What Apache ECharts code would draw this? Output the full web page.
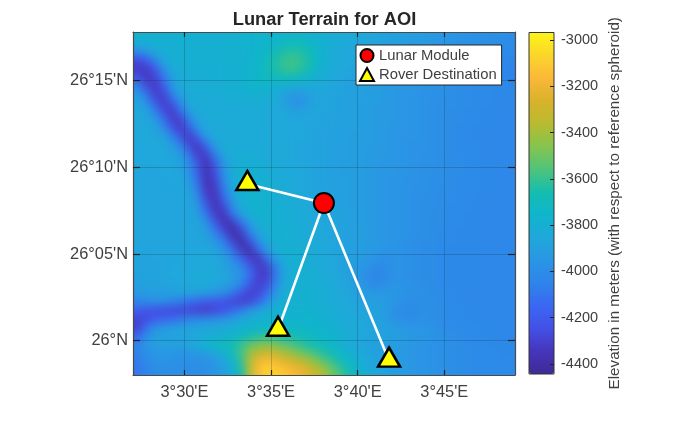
<!DOCTYPE html>
<html>
<head>
<meta charset="utf-8">
<script src="https://cdn.jsdelivr.net/npm/echarts@6/dist/echarts.min.js"></script>
<style>html,body{margin:0;padding:0;background:#fff}#chart{width:700px;height:421px}</style>
</head>
<body>
<div id="chart"></div>
<script>
// axes are in arc minutes
var xTicks = [210, 215, 220, 225];
var xTickLabels = ["3°30'E", "3°35'E", "3°40'E", "3°45'E"];
var yTicks = [1560, 1565, 1570, 1575];
var yTickLabels = ["26°N", "26°05'N", "26°10'N", "26°15'N"];
var elevationTicks = [-4400, -4200, -4000, -3800, -3600, -3400, -3200, -3000];

var moduleLon = [218.05];
var moduleLat = [1567.94];
var destLon = [213.63, 215.4, 221.81];
var destLat = [1569.04, 1560.63, 1558.85];

// elevation, half minute cells, north to south
var terrain = [
[-3790,-3790,-3790,-3790,-3790,-3790,-3790,-3790,-3790,-3790, -3790,-3790,-3780,-3780,-3770,-3770,-3770,-3770,-3770,-3770, -3790,-3800,-3810,-3820,-3830,-3840,-3850,-3860,-3870,-3880, -3890,-3900,-3910,-3920,-3930,-3940,-3950,-3960,-3970,-3980, -3980,-3990,-3990,-4000,-4000],
[-3800,-3800,-3800,-3800,-3800,-3800,-3800,-3800,-3800,-3800, -3790,-3790,-3780,-3780,-3770,-3760,-3750,-3730,-3710,-3710, -3740,-3780,-3810,-3830,-3840,-3850,-3860,-3870,-3880,-3890, -3900,-3910,-3920,-3930,-3940,-3950,-3960,-3970,-3980,-3980, -3990,-3990,-4000,-4000,-4010],
[-3960,-3900,-3830,-3810,-3800,-3800,-3800,-3800,-3800,-3800, -3790,-3790,-3790,-3780,-3770,-3740,-3700,-3650,-3630,-3650, -3700,-3770,-3810,-3840,-3850,-3860,-3870,-3880,-3890,-3900, -3910,-3920,-3930,-3940,-3950,-3960,-3970,-3980,-3990,-3990, -4000,-4000,-4010,-4010,-4020],
[-4240,-4180,-4020,-3860,-3810,-3800,-3800,-3800,-3800,-3800, -3800,-3790,-3790,-3780,-3750,-3710,-3650,-3600,-3590,-3610, -3670,-3750,-3810,-3840,-3850,-3860,-3880,-3890,-3900,-3910, -3920,-3930,-3940,-3950,-3960,-3970,-3980,-3990,-3990,-4000, -4000,-4010,-4020,-4030,-4040],
[-4330,-4320,-4210,-3980,-3840,-3810,-3810,-3810,-3810,-3810, -3800,-3800,-3790,-3770,-3740,-3700,-3650,-3600,-3590,-3620, -3680,-3760,-3820,-3840,-3860,-3870,-3880,-3890,-3900,-3910, -3920,-3930,-3940,-3950,-3960,-3970,-3980,-3990,-4000,-4000, -4010,-4020,-4030,-4040,-4060],
[-4240,-4330,-4300,-4110,-3890,-3820,-3820,-3820,-3810,-3810, -3800,-3800,-3790,-3770,-3740,-3710,-3690,-3670,-3680,-3720, -3770,-3810,-3840,-3860,-3870,-3880,-3890,-3900,-3910,-3920, -3930,-3940,-3950,-3960,-3970,-3980,-3990,-3990,-4000,-4010, -4010,-4020,-4030,-4050,-4060],
[-4050,-4260,-4330,-4200,-3960,-3840,-3820,-3820,-3820,-3810, -3810,-3800,-3790,-3760,-3750,-3760,-3780,-3800,-3810,-3830, -3840,-3850,-3860,-3870,-3880,-3890,-3900,-3910,-3920,-3920, -3930,-3940,-3950,-3960,-3970,-3980,-3990,-4000,-4000,-4010, -4010,-4020,-4020,-4030,-4040],
[-3930,-4090,-4300,-4300,-4060,-3880,-3830,-3830,-3820,-3820, -3820,-3810,-3800,-3790,-3790,-3810,-3830,-3880,-3930,-3930, -3880,-3860,-3870,-3880,-3890,-3890,-3900,-3910,-3920,-3930, -3940,-3950,-3960,-3970,-3980,-3980,-3990,-4000,-4000,-4010, -4010,-4020,-4020,-4020,-4030],
[-3870,-3960,-4180,-4320,-4230,-3990,-3850,-3830,-3830,-3830, -3820,-3820,-3820,-3820,-3820,-3830,-3840,-3900,-3970,-3980, -3900,-3870,-3870,-3880,-3890,-3900,-3910,-3910,-3920,-3930, -3940,-3950,-3960,-3970,-3980,-3990,-3990,-4000,-4000,-4010, -4010,-4020,-4020,-4030,-4030],
[-3850,-3880,-4020,-4250,-4330,-4140,-3920,-3840,-3840,-3830, -3830,-3830,-3830,-3830,-3830,-3840,-3850,-3860,-3890,-3890, -3870,-3870,-3880,-3880,-3890,-3900,-3910,-3920,-3930,-3930, -3940,-3950,-3960,-3970,-3980,-3990,-4000,-4000,-4010,-4010, -4020,-4020,-4020,-4030,-4030],
[-3850,-3860,-3920,-4090,-4300,-4300,-4060,-3880,-3840,-3840, -3840,-3830,-3830,-3830,-3830,-3840,-3850,-3850,-3860,-3860, -3870,-3870,-3880,-3890,-3890,-3900,-3910,-3920,-3930,-3930, -3940,-3950,-3960,-3970,-3980,-3990,-4000,-4000,-4010,-4010, -4020,-4020,-4030,-4030,-4030],
[-3850,-3850,-3870,-3970,-4180,-4330,-4210,-3960,-3850,-3840, -3840,-3840,-3830,-3830,-3840,-3840,-3850,-3850,-3860,-3860, -3870,-3880,-3880,-3890,-3900,-3900,-3910,-3920,-3930,-3940, -3950,-3950,-3960,-3970,-3980,-3990,-4000,-4010,-4010,-4020, -4020,-4020,-4030,-4030,-4030],
[-3850,-3850,-3860,-3870,-4010,-4200,-4340,-4160,-3930,-3840, -3840,-3840,-3830,-3830,-3840,-3840,-3850,-3850,-3860,-3860, -3870,-3880,-3890,-3890,-3900,-3910,-3910,-3920,-3930,-3940, -3950,-3960,-3960,-3970,-3980,-3990,-4000,-4010,-4010,-4020, -4020,-4030,-4030,-4030,-4030],
[-3860,-3860,-3860,-3860,-3900,-4030,-4260,-4340,-4140,-3910, -3840,-3830,-3830,-3830,-3830,-3840,-3850,-3850,-3860,-3870, -3870,-3880,-3890,-3900,-3900,-3910,-3920,-3920,-3930,-3940, -3950,-3960,-3970,-3970,-3980,-3990,-4000,-4010,-4010,-4010, -4020,-4030,-4030,-4030,-4030],
[-3860,-3860,-3860,-3860,-3870,-3930,-4090,-4310,-4310,-4060, -3860,-3830,-3820,-3820,-3830,-3840,-3840,-3850,-3860,-3870, -3870,-3880,-3890,-3900,-3900,-3910,-3920,-3930,-3930,-3940, -3950,-3960,-3970,-3980,-3980,-3990,-4000,-4000,-4010,-4010, -4020,-4020,-4030,-4030,-4030],
[-3860,-3860,-3860,-3860,-3860,-3890,-3990,-4220,-4370,-4200, -3950,-3830,-3810,-3810,-3820,-3830,-3840,-3850,-3860,-3860, -3870,-3880,-3890,-3900,-3910,-3910,-3920,-3930,-3940,-3940, -3950,-3960,-3970,-3980,-3980,-3990,-4000,-4000,-4010,-4010, -4020,-4020,-4030,-4030,-4030],
[-3870,-3870,-3870,-3860,-3860,-3870,-3970,-4190,-4380,-4250, -3970,-3820,-3790,-3780,-3800,-3820,-3830,-3840,-3850,-3860, -3870,-3880,-3890,-3900,-3910,-3910,-3920,-3930,-3940,-3950, -3950,-3960,-3970,-3980,-3990,-3990,-4000,-4000,-4010,-4010, -4020,-4020,-4030,-4030,-4030],
[-3870,-3870,-3870,-3870,-3860,-3860,-3910,-4130,-4370,-4300, -4020,-3840,-3780,-3770,-3780,-3810,-3830,-3840,-3850,-3860, -3870,-3880,-3890,-3900,-3900,-3910,-3920,-3930,-3940,-3950, -3960,-3970,-3970,-3980,-3990,-3990,-4000,-4010,-4010,-4010, -4020,-4020,-4030,-4030,-4030],
[-3870,-3870,-3870,-3870,-3870,-3860,-3890,-4070,-4340,-4330, -4090,-3860,-3780,-3770,-3780,-3800,-3820,-3830,-3840,-3860, -3870,-3880,-3880,-3890,-3900,-3910,-3920,-3930,-3940,-3950, -3960,-3970,-3980,-3980,-3990,-4000,-4000,-4010,-4010,-4010, -4020,-4020,-4030,-4030,-4030],
[-3870,-3870,-3870,-3870,-3870,-3870,-3870,-4000,-4280,-4370, -4160,-3920,-3800,-3780,-3780,-3790,-3810,-3820,-3830,-3850, -3860,-3870,-3880,-3890,-3900,-3910,-3920,-3930,-3940,-3950, -3960,-3970,-3980,-3990,-3990,-4000,-4000,-4010,-4010,-4020, -4020,-4020,-4030,-4030,-4030],
[-3870,-3870,-3870,-3870,-3870,-3870,-3870,-3940,-4180,-4370, -4280,-4000,-3840,-3790,-3780,-3790,-3800,-3810,-3830,-3840, -3850,-3860,-3880,-3890,-3900,-3910,-3920,-3930,-3940,-3950, -3960,-3970,-3980,-3990,-3990,-4000,-4010,-4010,-4010,-4020, -4020,-4030,-4030,-4030,-4030],
[-3870,-3870,-3870,-3870,-3870,-3870,-3870,-3900,-4090,-4300, -4370,-4130,-3900,-3810,-3790,-3790,-3800,-3810,-3820,-3830, -3850,-3860,-3870,-3880,-3890,-3900,-3920,-3930,-3940,-3950, -3960,-3970,-3980,-3990,-4000,-4000,-4010,-4010,-4020,-4020, -4020,-4030,-4030,-4030,-4030],
[-3870,-3870,-3870,-3870,-3870,-3870,-3870,-3870,-3970,-4180, -4350,-4370,-4150,-3930,-3820,-3790,-3800,-3810,-3820,-3830, -3840,-3850,-3870,-3880,-3890,-3900,-3910,-3930,-3940,-3950, -3960,-3970,-3980,-3990,-4000,-4000,-4010,-4010,-4020,-4020, -4030,-4030,-4030,-4030,-4030],
[-3870,-3870,-3870,-3870,-3870,-3870,-3870,-3870,-3900,-4040, -4240,-4400,-4320,-4060,-3870,-3810,-3800,-3800,-3810,-3820, -3840,-3850,-3860,-3880,-3890,-3900,-3910,-3930,-3940,-3950, -3960,-3970,-3980,-3990,-4000,-4010,-4010,-4020,-4020,-4020, -4030,-4030,-4030,-4030,-4030],
[-3870,-3870,-3870,-3870,-3870,-3870,-3870,-3870,-3880,-3950, -4060,-4280,-4420,-4240,-3990,-3840,-3800,-3800,-3810,-3820, -3830,-3850,-3860,-3870,-3890,-3900,-3910,-3930,-3940,-3950, -3960,-3980,-3990,-4000,-4000,-4010,-4010,-4020,-4020,-4020, -4030,-4030,-4030,-4030,-4030],
[-3870,-3870,-3870,-3870,-3870,-3870,-3860,-3860,-3860,-3880, -3960,-4110,-4320,-4390,-4160,-3930,-3820,-3800,-3800,-3810, -3830,-3840,-3860,-3870,-3890,-3900,-3920,-3930,-3940,-3960, -3970,-3980,-3990,-4000,-4000,-4010,-4020,-4020,-4020,-4020, -4030,-4030,-4030,-4030,-4030],
[-3880,-3880,-3870,-3870,-3870,-3860,-3860,-3850,-3850,-3860, -3880,-4000,-4140,-4310,-4350,-4110,-3900,-3810,-3800,-3810, -3820,-3840,-3850,-3870,-3890,-3900,-3920,-3950,-3980,-3990, -3970,-3980,-3990,-4000,-4000,-4010,-4020,-4020,-4020,-4020, -4030,-4030,-4030,-4030,-4030],
[-3880,-3880,-3880,-3870,-3860,-3860,-3850,-3850,-3850,-3850, -3870,-3940,-4020,-4170,-4310,-4310,-4060,-3860,-3800,-3800, -3810,-3830,-3850,-3870,-3890,-3920,-3950,-3990,-4020,-3990, -3970,-3980,-3990,-4000,-4000,-4010,-4020,-4020,-4020,-4020, -4030,-4030,-4030,-4030,-4030],
[-3890,-3880,-3880,-3870,-3860,-3860,-3850,-3840,-3840,-3850, -3860,-3910,-3970,-4120,-4300,-4310,-4080,-3870,-3800,-3800, -3810,-3820,-3840,-3860,-3880,-3920,-3970,-4020,-4040,-4000, -3970,-3980,-3990,-4000,-4000,-4010,-4020,-4020,-4020,-4020, -4030,-4030,-4030,-4030,-4030],
[-3900,-3890,-3880,-3880,-3870,-3860,-3850,-3840,-3840,-3860, -3880,-3930,-4020,-4210,-4310,-4260,-4040,-3850,-3790,-3790, -3800,-3820,-3830,-3850,-3870,-3900,-3950,-4000,-4010,-3970, -3960,-3970,-3980,-3990,-4000,-4010,-4020,-4020,-4020,-4020, -4030,-4030,-4030,-4030,-4030],
[-3940,-3920,-3910,-3900,-3890,-3880,-3880,-3890,-3920,-3950, -4000,-4090,-4220,-4300,-4280,-4130,-3940,-3820,-3790,-3790, -3790,-3810,-3830,-3840,-3860,-3880,-3910,-3930,-3940,-3940, -3950,-3960,-3970,-3990,-4000,-4000,-4010,-4020,-4020,-4020, -4030,-4030,-4030,-4030,-4030],
[-4040,-4010,-3990,-4000,-4040,-4080,-4120,-4170,-4210,-4220, -4240,-4280,-4300,-4280,-4170,-4000,-3850,-3800,-3790,-3790, -3790,-3800,-3820,-3840,-3850,-3870,-3890,-3900,-3910,-3930, -3960,-3990,-4000,-3990,-3990,-4000,-4010,-4020,-4020,-4030, -4030,-4030,-4030,-4030,-4030],
[-4180,-4230,-4250,-4260,-4270,-4280,-4280,-4300,-4310,-4280, -4240,-4160,-4070,-3950,-3870,-3820,-3790,-3780,-3780,-3780, -3780,-3790,-3810,-3830,-3840,-3860,-3870,-3880,-3900,-3940, -3990,-4010,-4010,-3990,-3990,-4000,-4010,-4010,-4020,-4020, -4030,-4030,-4030,-4030,-4030],
[-4290,-4260,-4200,-4170,-4140,-4100,-4050,-4030,-4010,-3980, -3950,-3900,-3860,-3820,-3790,-3780,-3770,-3770,-3770,-3770, -3770,-3780,-3800,-3820,-3840,-3850,-3860,-3880,-3890,-3930, -3980,-4000,-4000,-3980,-3990,-4000,-4010,-4010,-4020,-4020, -4020,-4020,-4030,-4030,-4030],
[-4300,-4130,-3990,-3930,-3900,-3890,-3880,-3870,-3860,-3850, -3840,-3820,-3790,-3770,-3760,-3740,-3740,-3740,-3740,-3740, -3750,-3770,-3780,-3800,-3820,-3840,-3860,-3870,-3890,-3900, -3920,-3940,-3950,-3960,-3970,-3990,-4000,-4000,-4010,-4010, -4020,-4020,-4020,-4030,-4030],
[-4160,-4000,-3900,-3890,-3880,-3880,-3870,-3850,-3830,-3810, -3790,-3760,-3720,-3670,-3630,-3610,-3620,-3650,-3670,-3690, -3710,-3740,-3760,-3790,-3810,-3830,-3850,-3870,-3880,-3900, -3910,-3930,-3940,-3950,-3960,-3980,-3990,-4000,-4010,-4010, -4020,-4020,-4020,-4030,-4020],
[-4040,-3960,-3900,-3900,-3900,-3900,-3870,-3830,-3770,-3730, -3700,-3660,-3600,-3530,-3470,-3450,-3480,-3520,-3570,-3610, -3650,-3680,-3720,-3770,-3810,-3850,-3880,-3890,-3900,-3910, -3920,-3930,-3950,-3960,-3970,-3980,-3990,-4000,-4000,-4010, -4010,-4020,-4020,-4020,-4020],
[-4060,-3990,-3950,-3940,-3950,-3960,-3960,-3940,-3920,-3870, -3800,-3720,-3590,-3430,-3320,-3280,-3310,-3370,-3420,-3480, -3540,-3600,-3650,-3700,-3760,-3810,-3850,-3880,-3900,-3910, -3920,-3940,-3950,-3960,-3970,-3980,-3990,-4000,-4000,-4010, -4010,-4010,-4020,-4020,-4020],
[-4090,-4030,-3980,-3970,-3980,-3990,-3990,-3990,-3990,-3950, -3870,-3790,-3620,-3380,-3190,-3130,-3170,-3220,-3270,-3320, -3390,-3470,-3550,-3630,-3700,-3760,-3820,-3860,-3890,-3910, -3920,-3930,-3950,-3960,-3970,-3980,-3990,-4000,-4000,-4010, -4010,-4010,-4010,-4020,-4010],
[-4100,-4050,-4000,-3990,-3990,-3990,-4000,-4000,-3990,-3960, -3910,-3840,-3660,-3380,-3150,-3070,-3090,-3110,-3160,-3200, -3270,-3350,-3440,-3540,-3630,-3720,-3790,-3840,-3870,-3900, -3920,-3930,-3950,-3960,-3970,-3980,-3990,-4000,-4000,-4010, -4010,-4010,-4010,-4010,-4010]
];

var terrainData = [];
terrain.forEach(function (row, j) {
    row.forEach(function (v, i) {
        terrainData.push([207.25 + 0.5 * i, 1577.75 - 0.5 * j, v]);
    });
});

var fontName = '"Liberation Sans", Arial, sans-serif';
var axisColor = '#4a4a4a';
var textColor = '#404040';

function coordAxis(position, ticks, labels, range, grid, tickLen, margin) {
    var axis = {
        type: 'value',
        gridIndex: 0,
        position: position,
        min: range[0],
        max: range[1],
        axisLine: {show: true, onZero: false, lineStyle: {color: axisColor, width: 1.2}},
        axisTick: {show: true, inside: true, length: tickLen, customValues: ticks, lineStyle: {color: '#222', width: 1.2}},
        axisLabel: {show: false, customValues: ticks},
        splitLine: {show: grid, lineStyle: {color: 'rgba(20,40,50,0.22)', width: 1}}
    };
    if (labels) {
        axis.axisLabel = {
            show: true,
            customValues: ticks,
            margin: margin,
            fontFamily: fontName,
            fontSize: 16.4,
            color: textColor,
            formatter: function (v) { return labels[ticks.indexOf(v)]; }
        };
    }
    return axis;
}

var xRange = [207.03, 229.08];
var yRange = [1558.02, 1577.81];

var routes = destLon.map(function (lon, i) {
    return {
        type: 'line',
        data: [[moduleLon[0], moduleLat[0]], [lon, destLat[i]]],
        showSymbol: false,
        symbol: 'none',
        silent: true,
        lineStyle: {color: '#fff', width: 2.6},
        z: 3
    };
});

var chart = echarts.init(document.getElementById('chart'));
var option = {
    animation: false,
    title: {
        text: 'Lunar Terrain for AOI',
        left: 319.5,
        top: 6,
        textAlign: 'center',
        textStyle: {fontFamily: fontName, fontSize: 18.3, fontWeight: 'bold', color: '#262626'}
    },
    grid: [
        {left: 133, top: 32, width: 382, height: 343},
        {left: 529, top: 32.5, width: 25, height: 341.5, show: true, backgroundColor: 'transparent', borderColor: '#333', borderWidth: 1, z: 5}
    ],
    xAxis: [
        coordAxis('bottom', xTicks, xTickLabels, xRange, true, 5, 9),
        coordAxis('top', xTicks, null, xRange, false, 5, 9),
        {type: 'value', gridIndex: 1, show: false, min: 0, max: 1}
    ],
    yAxis: [
        coordAxis('left', yTicks, yTickLabels, yRange, true, 7, 5),
        coordAxis('right', yTicks, null, yRange, false, 7, 5),
        {
            type: 'value',
            gridIndex: 1,
            position: 'right',
            min: -4443,
            max: -2968,
            z: 5,
            axisLine: {show: false, onZero: false},
            axisTick: {show: true, inside: true, length: 4, customValues: elevationTicks, lineStyle: {color: '#222'}},
            splitLine: {show: false},
            axisLabel: {
                customValues: elevationTicks,
                margin: 7,
                fontFamily: fontName,
                fontSize: 14.5,
                color: textColor,
                formatter: function (v) { return String(v); }
            },
            name: 'Elevation in meters (with respect to reference spheroid)',
            nameLocation: 'middle',
            nameRotate: 90,
            nameGap: 53,
            nameTextStyle: {fontFamily: fontName, fontSize: 15.2, color: textColor}
        }
    ],
    visualMap: {
        type: 'continuous',
        seriesIndex: 0,
        dimension: 2,
        min: -4443,
        max: -2968,
        left: 529,
        top: 32.5,
        padding: 0,
        itemWidth: 25,
        itemHeight: 341.5,
        calculable: false,
        hoverLink: false,
        z: 1,
        inRange: {
            color: ['#3f2a94', '#4635bb', '#4350e6', '#3b68f2', '#2e84ea', '#2a96e4', '#1fa8da', '#0fb5cb',
                '#14bdb0', '#50c47a', '#85c44f', '#b9bb30', '#d9b22a', '#fbb73a', '#fbd62a', '#fcf518']
        }
    },
    legend: {
        left: 356,
        top: 45,
        orient: 'vertical',
        data: ['Lunar Module', 'Rover Destination'],
        backgroundColor: '#fff',
        borderColor: '#262626',
        borderWidth: 1,
        padding: [3, 5, 3, 3],
        itemWidth: 14,
        itemHeight: 13,
        itemGap: 4,
        textStyle: {fontFamily: fontName, fontSize: 14.8, color: textColor}
    },
    series: [
        {
            type: 'custom',
            name: 'terrain',
            zlevel: -1,
            silent: true,
            encode: {x: 0, y: 1},
            data: terrainData,
            renderItem: function (params, api) {
                var x = api.value(0), y = api.value(1);
                var a = api.coord([x - 0.25, y + 0.25]);
                var b = api.coord([x + 0.25, y - 0.25]);
                // edge cells run past the frame so the softening below stays solid there
                var i = Math.round((x - 207.25) / 0.5), j = Math.round((1577.75 - y) / 0.5);
                var l = i === 0 ? a[0] - 20 : a[0];
                var r = i === 44 ? b[0] + 20 : b[0] + 1;
                var t = j === 0 ? a[1] - 20 : a[1];
                var u = j === 39 ? b[1] + 20 : b[1] + 1;
                return {
                    type: 'rect',
                    shape: {x: l, y: t, width: r - l, height: u - t},
                    style: {fill: api.visual('color')}
                };
            }
        }
    ].concat(routes).concat([
        {
            type: 'scatter',
            name: 'Lunar Module',
            data: moduleLon.map(function (lon, i) { return [lon, moduleLat[i]]; }),
            symbol: 'circle',
            symbolSize: 20,
            itemStyle: {color: '#ff0000', borderColor: '#000', borderWidth: 2, opacity: 1},
            z: 4
        },
        {
            type: 'scatter',
            name: 'Rover Destination',
            data: destLon.map(function (lon, i) { return [lon, destLat[i]]; }),
            symbol: 'triangle',
            symbolSize: [22, 19],
            symbolOffset: [0, -3.5],
            itemStyle: {color: '#ffff00', borderColor: '#000', borderWidth: 2.5, opacity: 1, borderJoin: 'miter', borderMiterLimit: 10},
            z: 4
        }
    ])
};
chart.setOption(option);

// terrain sits on its own layer; soften the cells and cut it to the frame
chart.getZr().flush();
var layer = chart.getZr().painter.getLayer(-1);
layer.dom.style.filter = 'blur(4px)';
layer.dom.style.clipPath = 'inset(32px 185px 46px 133px)';
</script>
</body>
</html>
